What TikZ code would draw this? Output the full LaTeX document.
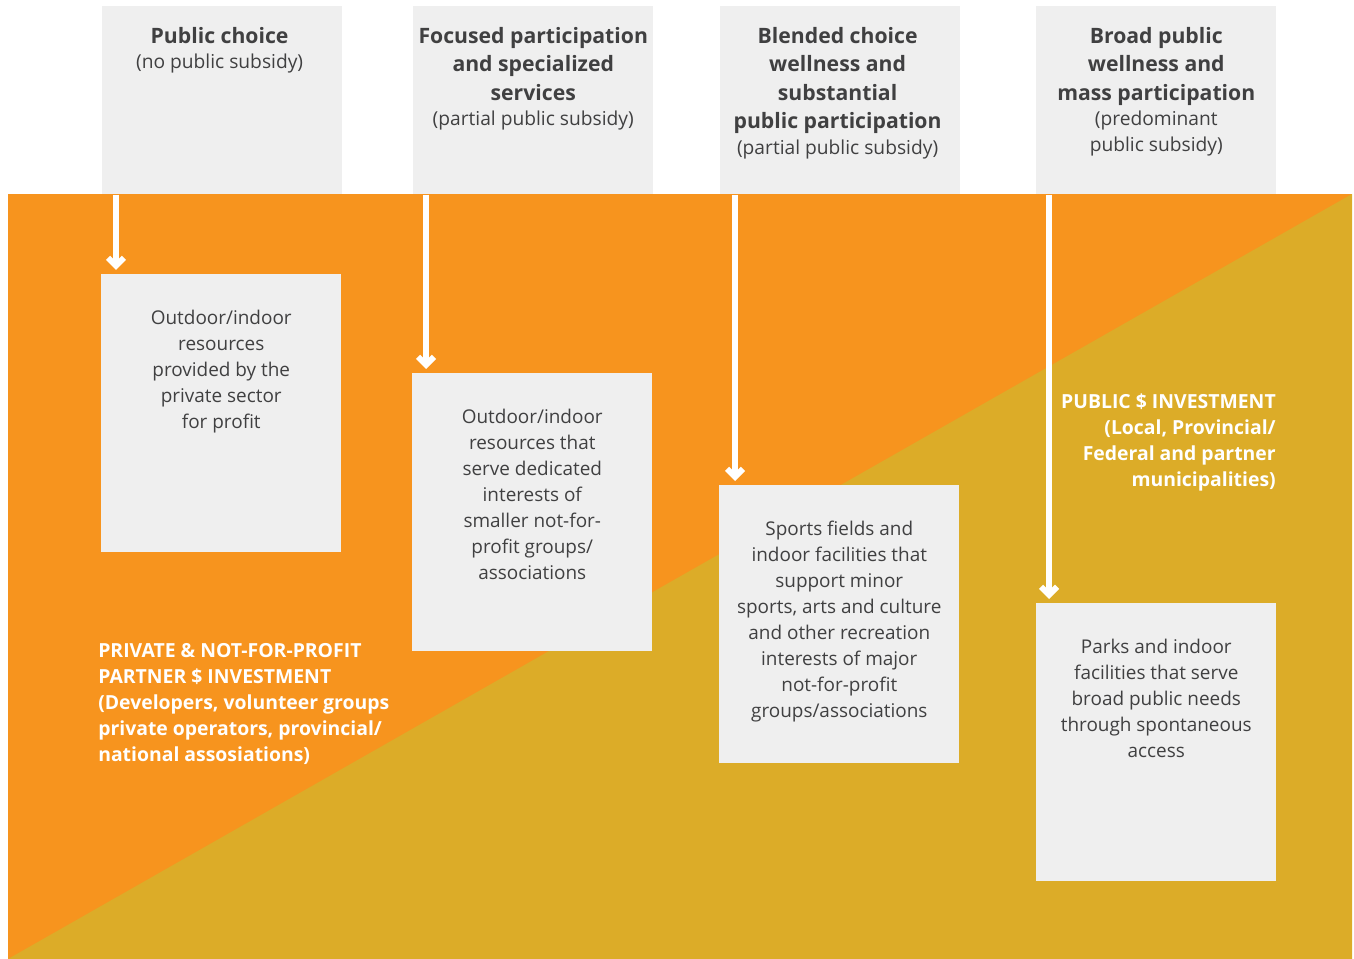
\documentclass[tikz,border=0pt]{standalone}
\usepackage{fontspec}
\setmainfont{Open Sans}
\usetikzlibrary{arrows.meta,positioning}
\definecolor{fieldorange}{HTML}{F7941E}
\definecolor{fieldgold}{HTML}{DCAC28}
\definecolor{boxgrey}{HTML}{EFEFEF}
\definecolor{textgrey}{HTML}{404041}
\newcommand{\subsidy}[1]{{\fontsize{14.4}{19.5}\selectfont #1}}
\tikzset{
	hbox/.style={fill=boxgrey, minimum width=180pt, minimum height=141pt, anchor=north west, inner sep=0pt},
	rbox/.style={fill=boxgrey, minimum width=180pt, minimum height=208.5pt, anchor=north west, inner sep=0pt},
	htext/.style={anchor=north, align=center, inner sep=0pt, text=textgrey, font=\fontsize{15.9}{21.4}\selectfont},
	rtext/.style={anchor=north, align=center, inner sep=0pt, text=textgrey, font=\fontsize{14.2}{19.5}\selectfont},
	flow/.style={draw=white, line width=4.5pt, -{Straight Barb[length=6pt,width=12pt]}, shorten >=3pt},
	invest/.style={inner sep=0pt, text=white, font=\bfseries\fontsize{14.55}{19.5}\selectfont}
}
\begin{document}
\begin{tikzpicture}[x=0.75pt, y=-0.75pt]
	\useasboundingbox (0,0) rectangle (1354,959);

	% two funding fields
	\fill[fieldorange] (8,194) rectangle (1352,959);
	\fill[fieldgold] (8,959) -- (1352,194) -- (1352,959) -- cycle;

	% headers
	\node[hbox] (h1) at (102,6) {};
	\node[hbox] (h2) at (413,6) {};
	\node[hbox] (h3) at (720,6) {};
	\node[hbox] (h4) at (1036,6) {};

	\node[htext, below=15.5pt of h1.north, xshift=-2pt] (h1t) {\textbf{Public choice}\\[-2pt]\subsidy{(no public subsidy)}};
	\node[htext, below=15.5pt of h2.north] (h2t) {\textbf{Focused participation}\\\textbf{and specialized}\\\textbf{services}\\[-2pt]\subsidy{(partial public subsidy)}};
	\node[htext, below=15.5pt of h3.north, xshift=-2pt] (h3t) {\textbf{Blended choice}\\\textbf{wellness and}\\\textbf{substantial}\\\textbf{public participation}\\[-2pt]\subsidy{(partial public subsidy)}};
	\node[htext, below=15.5pt of h4.north] (h4t) {\textbf{Broad public}\\\textbf{wellness and}\\\textbf{mass participation}\\[-2pt]\subsidy{(predominant}\\[-2pt]\subsidy{public subsidy)}};

	% resources
	\node[rbox] (r1) at (101,274) {};
	\node[rbox] (r2) at (412,373) {};
	\node[rbox] (r3) at (719,485) {};
	\node[rbox] (r4) at (1036,603) {};

	\node[rtext, below=27pt of r1.north] (r1t) {Outdoor/indoor\\resources\\provided by the\\private sector\\for profit};
	\node[rtext, below=27pt of r2.north] (r2t) {Outdoor/indoor\\resources that\\serve dedicated\\interests of\\smaller not-for-\\profit groups/\\associations};
	\node[rtext, below=27pt of r3.north] (r3t) {Sports fields and\\indoor facilities that\\support minor\\sports, arts and culture\\and other recreation\\interests of major\\not-for-profit\\groups/associations};
	\node[rtext, below=27pt of r4.north] (r4t) {Parks and indoor\\facilities that serve\\broad public needs\\through spontaneous\\access};

	% arrows
	\draw[flow] ([xshift=10.5pt]h1.south west) -- ([xshift=10.5pt]h1.south west |- r1.north);
	\draw[flow] ([xshift=9.75pt]h2.south west) -- ([xshift=9.75pt]h2.south west |- r2.north);
	\draw[flow] ([xshift=11.25pt]h3.south west) -- ([xshift=11.25pt]h3.south west |- r3.north);
	\draw[flow] ([xshift=9.75pt]h4.south west) -- ([xshift=9.75pt]h4.south west |- r4.north);

	% investment labels
	\node[invest, anchor=north west, align=left] (private) at (98,643) {PRIVATE \& NOT-FOR-PROFIT\\PARTNER \$ INVESTMENT\\(Developers, volunteer groups\\private operators, provincial/\\national assosiations)};
	\node[invest, anchor=north east, align=right] (public) at (1276,394) {PUBLIC \$ INVESTMENT\\(Local, Provincial/\\Federal and partner\\municipalities)};
\end{tikzpicture}
\end{document}
